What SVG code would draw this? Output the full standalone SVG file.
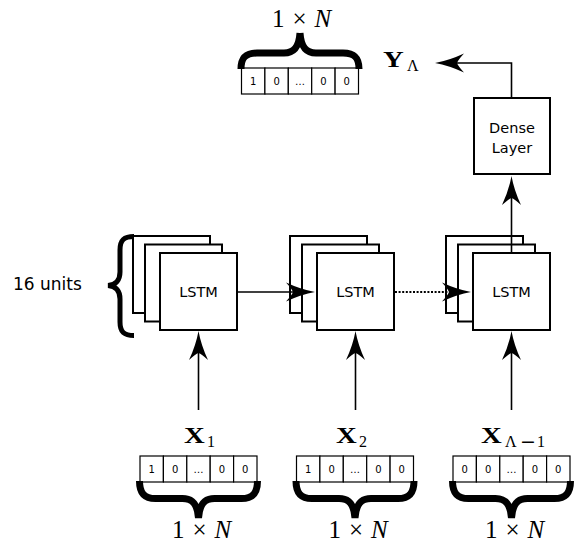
<svg xmlns="http://www.w3.org/2000/svg" width="584" height="544" viewBox="0 0 584 544">
<style>
.box{fill:#fff;stroke:#000;stroke-width:2}
.lbl{font-family:"DejaVu Sans",sans-serif;font-size:14.5px;fill:#000;text-anchor:middle}
.cell{fill:#fff;stroke:#000;stroke-width:1.2}
.dig{font-family:"DejaVu Sans",sans-serif;font-size:10px;fill:#000;text-anchor:middle}
.brace{fill:none;stroke:#000;stroke-width:7}
.math{font-family:"Liberation Serif","Times New Roman",serif;font-size:25px;fill:#000}
.bx{font-family:"Liberation Serif","Times New Roman",serif;font-size:23px;font-weight:bold;fill:#000}
.sub{font-family:"Liberation Serif","Times New Roman",serif;font-size:16px;fill:#000}
.ln{fill:none;stroke:#000;stroke-width:1.6}
.dot{fill:none;stroke:#000;stroke-width:1.8;stroke-dasharray:2 1.6}
</style>
<defs>
<marker id="ah" markerUnits="userSpaceOnUse" viewBox="-32 -12 34 24" markerWidth="34" markerHeight="24" refX="-22" refY="0" orient="auto">
<path d="M0,0 Q-14,-2.5 -29,-9.5 Q-23,-3 -22,0 Q-23,3 -29,9.5 Q-14,2.5 0,0 Z" fill="#000" stroke="none"/>
</marker>
<g id="vec5">
<rect class="cell" x="0" y="0" width="23.4" height="26"/>
<rect class="cell" x="23.4" y="0" width="23.4" height="26"/>
<rect class="cell" x="46.8" y="0" width="23.4" height="26"/>
<rect class="cell" x="70.2" y="0" width="23.4" height="26"/>
<rect class="cell" x="93.6" y="0" width="23.4" height="26"/>
</g>
</defs>
<rect x="0" y="0" width="584" height="544" fill="#fff"/>

<g id="lstm1">
<rect class="box" x="133" y="236" width="77" height="77"/>
<rect class="box" x="145" y="244.5" width="77" height="77"/>
<rect class="box" x="160" y="253" width="77" height="77"/>
<text class="lbl" x="198.5" y="296.5">LSTM</text>
</g>
<g id="lstm2">
<rect class="box" x="290" y="236" width="77" height="77"/>
<rect class="box" x="302" y="244.5" width="77" height="77"/>
<rect class="box" x="317" y="253" width="77" height="77"/>
<text class="lbl" x="355.5" y="296.5">LSTM</text>
</g>
<g id="lstm3">
<rect class="box" x="446" y="236" width="77" height="77"/>
<rect class="box" x="458" y="244.5" width="77" height="77"/>
<rect class="box" x="473" y="253" width="77" height="77"/>
<text class="lbl" x="511.5" y="296.5">LSTM</text>
</g>
<g id="dense">
<rect class="box" x="474" y="98" width="76" height="76"/>
<text class="lbl" x="512" y="133">Dense</text>
<text class="lbl" x="512" y="152.5">Layer</text>
</g>

<g id="units">
<path d="M134,236.5 C124,236.5 120,240 120,250 V272 C120,280 116,285 108,285.5 C116,286 120,291 120,299 V322 C120,332 124,335.5 134,335.5" fill="none" stroke="#000" stroke-width="5"/>
<text x="13" y="290" font-family="DejaVu Sans,sans-serif" font-size="17" fill="#000">16 units</text>
</g>

<g id="out-vec">
<use href="#vec5" x="241.5" y="68"/>
<text class="dig" x="253.2" y="84.5">1</text><text class="dig" x="276.6" y="84.5">0</text><text class="dig" x="300" y="84.5">…</text><text class="dig" x="323.4" y="84.5">0</text><text class="dig" x="346.8" y="84.5">0</text>
<path class="brace" d="M241,69 C241,58 245,53 257,53 H284 C294,53 299,47 300,33 M300,33 C301,47 306,53 316,53 H343 C355,53 359,58 359,69"/>
<text class="math" x="272" y="27">1<tspan dx="8">×</tspan><tspan dx="8" font-style="italic">N</tspan></text>
</g>
<g id="y-label">
<text class="bx" transform="translate(383,67) scale(1.25,1)">Y</text><text class="sub" x="407" y="71">Λ</text>
</g>

<g id="x1">
<use href="#vec5" x="140" y="456"/>
<text class="dig" x="151.7" y="472.5">1</text><text class="dig" x="175.1" y="472.5">0</text><text class="dig" x="198.5" y="472.5">…</text><text class="dig" x="221.9" y="472.5">0</text><text class="dig" x="245.3" y="472.5">0</text>
<path class="brace" d="M139.5,481 C139.5,492 143.5,498.5 155.5,498.5 H182.5 C192.5,498.5 197.5,504 198.5,518 M198.5,518 C199.5,504 204.5,498.5 214.5,498.5 H241.5 C253.5,498.5 257.5,492 257.5,481"/>
<text class="math" x="172" y="538">1<tspan dx="8">×</tspan><tspan dx="8" font-style="italic">N</tspan></text>
<text class="bx" transform="translate(184,443) scale(1.25,1)">X</text><text class="sub" x="207" y="447">1</text>
</g>
<g id="x2">
<use href="#vec5" x="296.5" y="456"/>
<text class="dig" x="308.2" y="472.5">1</text><text class="dig" x="331.6" y="472.5">0</text><text class="dig" x="355" y="472.5">…</text><text class="dig" x="378.4" y="472.5">0</text><text class="dig" x="401.8" y="472.5">0</text>
<path class="brace" d="M296,481 C296,492 300,498.5 312,498.5 H339 C349,498.5 354,504 355,518 M355,518 C356,504 361,498.5 371,498.5 H398 C410,498.5 414,492 414,481"/>
<text class="math" x="328.5" y="538">1<tspan dx="8">×</tspan><tspan dx="8" font-style="italic">N</tspan></text>
<text class="bx" transform="translate(336,443) scale(1.25,1)">X</text><text class="sub" x="359" y="447">2</text>
</g>
<g id="x3">
<use href="#vec5" x="453" y="456"/>
<text class="dig" x="464.7" y="472.5">0</text><text class="dig" x="488.1" y="472.5">0</text><text class="dig" x="511.5" y="472.5">…</text><text class="dig" x="534.9" y="472.5">0</text><text class="dig" x="558.3" y="472.5">0</text>
<path class="brace" d="M452.5,481 C452.5,492 456.5,498.5 468.5,498.5 H495.5 C505.5,498.5 510.5,504 511.5,518 M511.5,518 C512.5,504 517.5,498.5 527.5,498.5 H554.5 C566.5,498.5 570.5,492 570.5,481"/>
<text class="math" x="485" y="538">1<tspan dx="8">×</tspan><tspan dx="8" font-style="italic">N</tspan></text>
<text class="bx" transform="translate(481,443) scale(1.25,1)">X</text><text class="sub" x="505" y="447">Λ</text><text x="520" y="448" font-family="DejaVu Sans,sans-serif" font-size="19" fill="#000">−</text><text class="sub" x="537" y="447">1</text>
</g>

<g id="connectors">
<line class="ln" x1="198.5" y1="410" x2="198.5" y2="353" marker-end="url(#ah)"/>
<line class="ln" x1="355.5" y1="410" x2="355.5" y2="353" marker-end="url(#ah)"/>
<line class="ln" x1="511.5" y1="410" x2="511.5" y2="353" marker-end="url(#ah)"/>
<line class="ln" x1="237" y1="292" x2="293" y2="292" marker-end="url(#ah)"/>
<line class="dot" x1="395" y1="292" x2="449" y2="292" marker-end="url(#ah)"/>
<line class="ln" x1="511.5" y1="253" x2="511.5" y2="198" marker-end="url(#ah)"/>
<polyline class="ln" points="511.5,98 511.5,63 457,63" marker-end="url(#ah)"/>
</g>
</svg>
